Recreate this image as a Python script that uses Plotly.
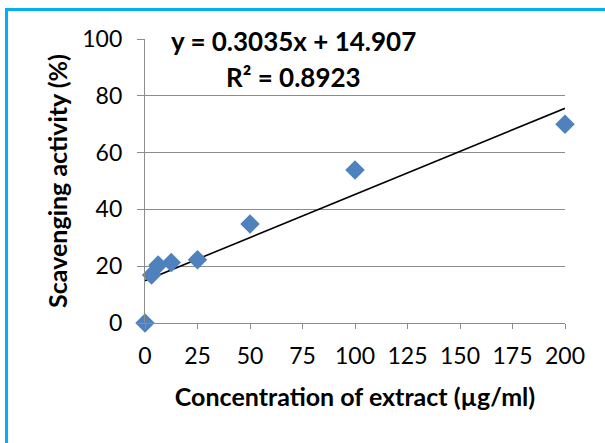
import plotly.graph_objects as go

concentration = [0, 3.125, 6.25, 12.5, 25, 50, 100, 200]
scavenging = [0, 16.9, 20.4, 21.3, 22.3, 34.9, 53.9, 70.0]
slope = 0.3035
intercept = 14.907
x_ticks = [0, 25, 50, 75, 100, 125, 150, 175, 200]
y_ticks = [0, 20, 40, 60, 80, 100]
eq_text = "y = 0.3035x + 14.907"
r2_text = "R² = 0.8923"

W, H = 605, 443
L, R, T, B = 145, 40, 39, 120
pw, ph = W - L - R, H - T - B

def px_to_paper_x(px):
    return (px - L) / pw

def py_to_paper_y(py):
    return (H - B - py) / ph

trend_x = [min(concentration), max(concentration)]
trend_y = [slope * v + intercept for v in trend_x]

fig = go.Figure()
fig.add_trace(go.Scatter(
    x=trend_x, y=trend_y, mode="lines",
    line=dict(color="black", width=1.6), showlegend=False, hoverinfo="skip"))
fig.add_trace(go.Scatter(
    x=concentration, y=scavenging, mode="markers",
    marker=dict(symbol="diamond", size=15, color="#4F81BD"),
    cliponaxis=False, showlegend=False))

font = "Lato, Carlito, Calibri, sans-serif"
grid = "#8C8C8C"

fig.update_layout(
    width=W, height=H,
    margin=dict(l=L, r=R, t=T, b=B),
    paper_bgcolor="white", plot_bgcolor="white",
    font=dict(family=font, color="black"),
    xaxis=dict(
        range=[0, 200], tickvals=x_ticks, showgrid=False,
        showline=True, linecolor=grid, linewidth=1.2,
        ticks="outside", ticklen=5, tickcolor=grid, tickwidth=1.2,
        tickfont=dict(size=23), ticklabelstandoff=7,
        zeroline=False,
        title=dict(text="<b>Concentration of extract (µg/ml)</b>", font=dict(size=25), standoff=20),
    ),
    yaxis=dict(
        range=[0, 100], tickvals=y_ticks, showgrid=True,
        gridcolor=grid, gridwidth=1.2,
        showline=True, linecolor=grid, linewidth=1.2,
        ticks="outside", ticklen=7, tickcolor=grid, tickwidth=1.2,
        tickfont=dict(size=23), ticklabelstandoff=10,
        zeroline=False,
        title=dict(text="<b>Scavenging activity (%)</b>", font=dict(size=25), standoff=7),
    ),
    annotations=[
        dict(x=px_to_paper_x(293), y=py_to_paper_y(41), xref="paper", yref="paper",
             xanchor="center", yanchor="middle",
             text="<b>" + eq_text + "</b>", showarrow=False, font=dict(size=26)),
        dict(x=px_to_paper_x(293), y=py_to_paper_y(77), xref="paper", yref="paper",
             xanchor="center", yanchor="middle",
             text="<b>" + r2_text + "</b>", showarrow=False, font=dict(size=26)),
    ],
    shapes=[
        dict(type="rect", xref="paper", yref="paper",
             x0=px_to_paper_x(6.5), x1=px_to_paper_x(620),
             y0=py_to_paper_y(9.5), y1=py_to_paper_y(460),
             line=dict(color="#00B0F0", width=3), layer="above"),
    ],
)

fig.write_html("out.html")
